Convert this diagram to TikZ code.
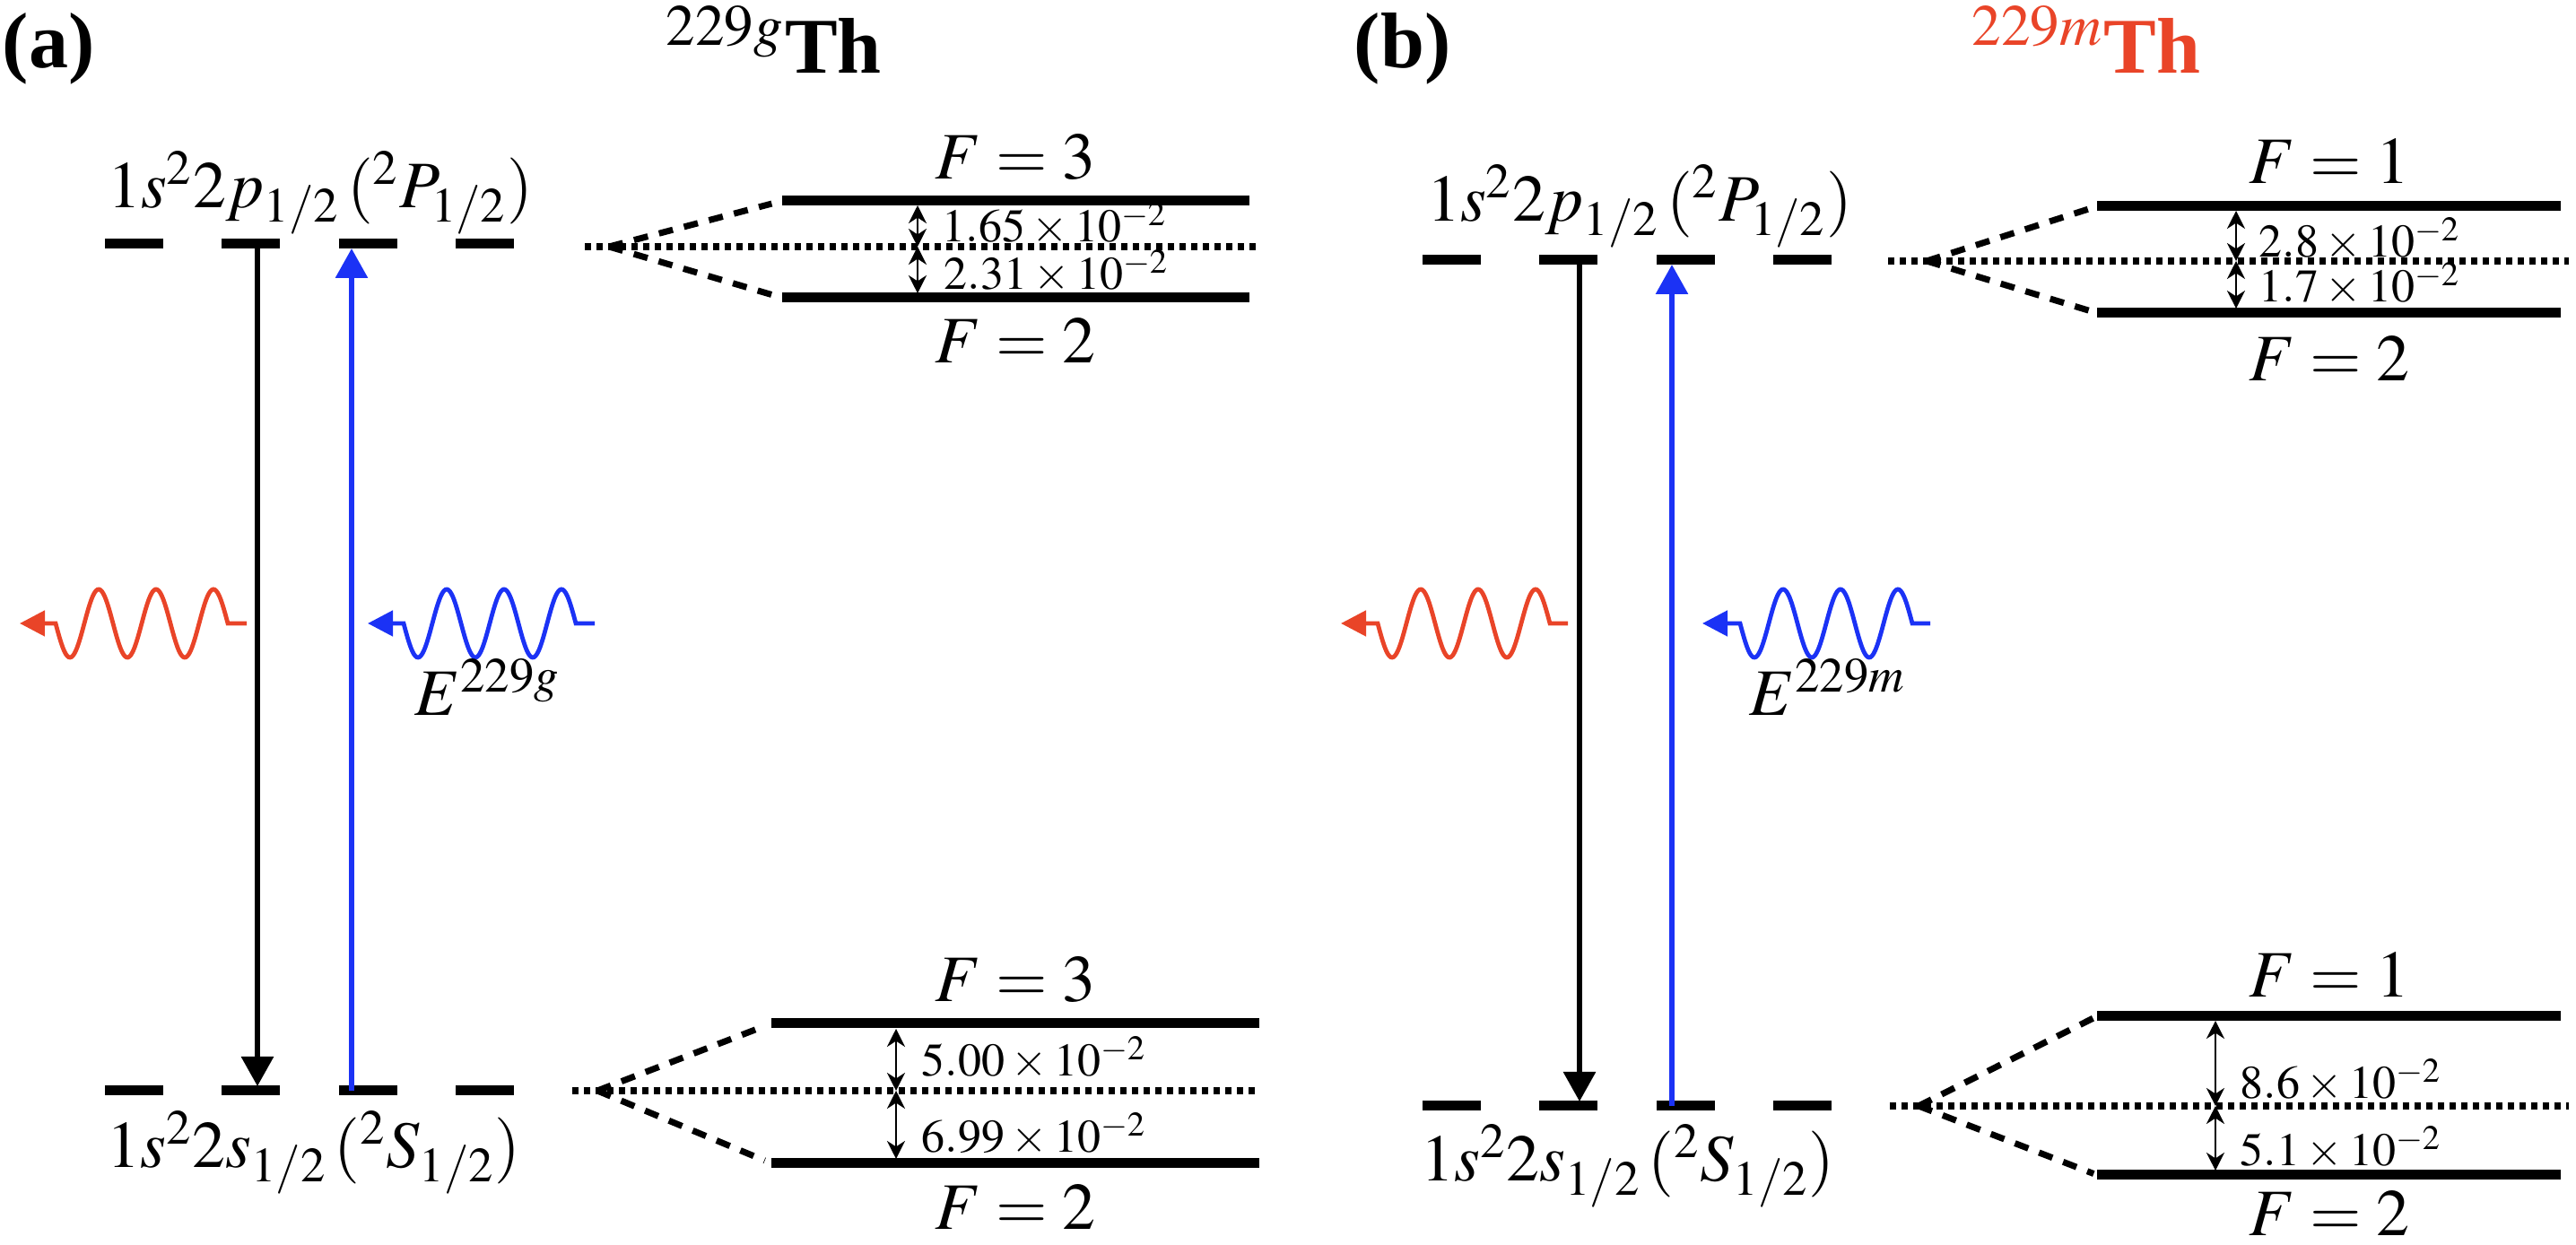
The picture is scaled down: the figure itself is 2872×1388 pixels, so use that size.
\documentclass[tikz,border=0pt]{standalone}
\usepackage{amsmath}
\usepackage{amssymb}
\usepackage{mathptmx}
\usepackage{fontspec}
\setmainfont{Liberation Serif}
\usetikzlibrary{arrows.meta}

\definecolor{photonred}{RGB}{233,68,40}
\definecolor{photonblue}{RGB}{27,50,245}

\tikzset{
  lvl/.style={line width=2.75pt, dash pattern=on 16.2pt off 16.4pt},
  hfs/.style={line width=2.75pt},
  ctr/.style={line width=1.9pt, dash pattern=on 1.7pt off 1.55pt},
  hfsplit/.style={line width=1.75pt, dash pattern=on 4pt off 3.2pt},
  hfgap/.style={line width=0.7pt, {Stealth[length=5pt,width=5pt,inset=1.6pt]}-{Stealth[length=5pt,width=5pt,inset=1.6pt]}},
  trans/.style={line width=1.5pt, -{Triangle[length=8.25pt,width=8.75pt]}},
  photon/.style={line width=1.2pt, -{Triangle[length=7pt,width=7pt]}},
  bigtxt/.style={font=\fontsize{18.5}{22}\selectfont},
  smalltxt/.style={font=\fontsize{13}{15}\selectfont},
  headtxt/.style={font=\fontsize{22}{26}\selectfont},
}

\begin{document}
\begin{tikzpicture}[x=0.25pt,y=0.25pt,yscale=-1,xscale=1]
\useasboundingbox (0,0) rectangle (2872,1388);

%%%%%%%%%%%%%%%% panel (a)
% Text Node
\draw (2,76) node [anchor=base west][inner sep=0pt][headtxt] (labA) {\textbf{(a)}};
% Text Node
\draw (742,82) node [anchor=base west][inner sep=0pt][headtxt] (isoA) {${}^{229g}$\textbf{Th}};

%Straight Lines
\draw [lvl] (117,272) -- (573,272) ;
%Straight Lines
\draw [lvl] (117,1216) -- (573,1216) ;
% Text Node
\draw (357,232) node [anchor=base][inner sep=0pt][bigtxt] (cfgAp) {$1s^{2}2p_{1/2}\,(^{2}P_{1/2})$};
% Text Node
\draw (350,1302) node [anchor=base][inner sep=0pt][bigtxt] (cfgAs) {$1s^{2}2s_{1/2}\,(^{2}S_{1/2})$};

\coordinate (aUk) at (287,277);
\coordinate (aLk) at (287,1211);
\coordinate (aUb) at (392,277);
\coordinate (aLb) at (392,1216);
%Arrows
\draw [trans] (aUk) -- (aLk) ;
\draw [trans, photonblue] (aLb) -- (aUb) ;

%Waves
\coordinate (aRs) at (275,695);
\coordinate (aRt) at (22,695);
\draw [photon, photonred] (aRs) -- (254,695) -- plot [domain=254:62, samples=120, smooth] (\x, {695+38*sin(5.625*(\x-62))}) -- (aRt) ;
\coordinate (aBs) at (663,695);
\coordinate (aBt) at (410,695);
\draw [photon, photonblue] (aBs) -- (642,695) -- plot [domain=642:450, samples=120, smooth] (\x, {695+38*sin(5.625*(\x-450))}) -- (aBt) ;
% Text Node
\draw (462,798) node [anchor=base west][inner sep=0pt][bigtxt] (enA) {$E^{229g}$};

% upper hyperfine
\coordinate (aUo) at (679,275);
\coordinate (aU3) at (872,224);
\coordinate (aU2) at (872,332);
\draw [ctr] (652,275) -- (1400,275) ;
\draw [hfsplit, shorten >=3pt] (aUo) -- (aU3) ;
\draw [hfsplit, shorten >=3pt] (aUo) -- (aU2) ;
\draw [hfs] (aU3) -- (1393,224) ;
\draw [hfs] (aU2) -- (1393,332) ;
\draw (1132,200) node [anchor=base][inner sep=0pt][bigtxt] (aUF3) {$F=3$};
\draw (1132,405) node [anchor=base][inner sep=0pt][bigtxt] (aUF2) {$F=2$};
\coordinate (aUgc) at (1023,275);
\coordinate (aUgt) at (1023,229);
\coordinate (aUgb) at (1023,327);
\draw [hfgap] (aUgt) -- (aUgc) ;
\draw [hfgap] (aUgc) -- (aUgb) ;
\draw (1050,270) node [anchor=base west][inner sep=0pt][smalltxt] (aUd1) {$1.65\times10^{-2}$};
\draw (1052,323) node [anchor=base west][inner sep=0pt][smalltxt] (aUd2) {$2.31\times10^{-2}$};

% lower hyperfine
\coordinate (aLo) at (666,1216);
\coordinate (aL3) at (860,1141);
\coordinate (aL2) at (860,1297);
\draw [ctr] (638,1216) -- (1404,1216) ;
\draw [hfsplit, shorten >=2pt] (aLo) -- (aL3) ;
\draw [hfsplit, shorten >=2pt] (aLo) -- (aL2) ;
\draw [hfs] (aL3) -- (1404,1141) ;
\draw [hfs] (aL2) -- (1404,1297) ;
\draw (1132,1117) node [anchor=base][inner sep=0pt][bigtxt] (aLF3) {$F=3$};
\draw (1132,1371) node [anchor=base][inner sep=0pt][bigtxt] (aLF2) {$F=2$};
\coordinate (aLgc) at (999,1216);
\coordinate (aLgt) at (999,1147);
\coordinate (aLgb) at (999,1292);
\draw [hfgap] (aLgt) -- (aLgc) ;
\draw [hfgap] (aLgc) -- (aLgb) ;
\draw (1027,1200) node [anchor=base west][inner sep=0pt][smalltxt] (aLd1) {$5.00\times10^{-2}$};
\draw (1027,1285) node [anchor=base west][inner sep=0pt][smalltxt] (aLd2) {$6.99\times10^{-2}$};

%%%%%%%%%%%%%%%% panel (b)
% Text Node
\draw (1509,76) node [anchor=base west][inner sep=0pt][headtxt] (labB) {\textbf{(b)}};
% Text Node
\draw (2198,82) node [anchor=base west][inner sep=0pt][headtxt, text=photonred] (isoB) {${}^{229m}$\textbf{Th}};

%Straight Lines
\draw [lvl] (1586,290) -- (2042,290) ;
%Straight Lines
\draw [lvl] (1586,1233) -- (2042,1233) ;
% Text Node
\draw (1828,247) node [anchor=base][inner sep=0pt][bigtxt] (cfgBp) {$1s^{2}2p_{1/2}\,(^{2}P_{1/2})$};
% Text Node
\draw (1815,1317) node [anchor=base][inner sep=0pt][bigtxt] (cfgBs) {$1s^{2}2s_{1/2}\,(^{2}S_{1/2})$};

\coordinate (bUk) at (1761,295);
\coordinate (bLk) at (1761,1228);
\coordinate (bUb) at (1864,295);
\coordinate (bLb) at (1864,1233);
%Arrows
\draw [trans] (bUk) -- (bLk) ;
\draw [trans, photonblue] (bLb) -- (bUb) ;

%Waves
\coordinate (bRs) at (1748,695);
\coordinate (bRt) at (1495,695);
\draw [photon, photonred] (bRs) -- (1728,695) -- plot [domain=1728:1536, samples=120, smooth] (\x, {695+38*sin(5.625*(\x-1536))}) -- (bRt) ;
\coordinate (bBs) at (2152,695);
\coordinate (bBt) at (1898,695);
\draw [photon, photonblue] (bBs) -- (2132,695) -- plot [domain=2132:1940, samples=120, smooth] (\x, {695+38*sin(5.625*(\x-1940))}) -- (bBt) ;
% Text Node
\draw (1950,798) node [anchor=base west][inner sep=0pt][bigtxt] (enB) {$E^{229m}$};

% upper hyperfine
\coordinate (bUo) at (2148,291);
\coordinate (bU1) at (2338,230);
\coordinate (bU2) at (2338,349);
\draw [ctr] (2105,291) -- (2864,291) ;
\draw [hfsplit, shorten >=1pt] (bUo) -- (bU1) ;
\draw [hfsplit, shorten >=1pt] (bUo) -- (bU2) ;
\draw [hfs] (bU1) -- (2855,230) ;
\draw [hfs] (bU2) -- (2855,349) ;
\draw (2597,205) node [anchor=base][inner sep=0pt][bigtxt] (bUF1) {$F=1$};
\draw (2597,425) node [anchor=base][inner sep=0pt][bigtxt] (bUF2) {$F=2$};
\coordinate (bUgc) at (2493,291);
\coordinate (bUgt) at (2493,235);
\coordinate (bUgb) at (2493,344);
\draw [hfgap] (bUgt) -- (bUgc) ;
\draw [hfgap] (bUgc) -- (bUgb) ;
\draw (2518,287) node [anchor=base west][inner sep=0pt][smalltxt] (bUd1) {$2.8\times10^{-2}$};
\draw (2518,337) node [anchor=base west][inner sep=0pt][smalltxt] (bUd2) {$1.7\times10^{-2}$};

% lower hyperfine
\coordinate (bLo) at (2139,1233);
\coordinate (bL1) at (2338,1133);
\coordinate (bL2) at (2338,1310);
\draw [ctr] (2107,1233) -- (2864,1233) ;
\draw [hfsplit, shorten >=1pt] (bLo) -- (bL1) ;
\draw [hfsplit, shorten >=1pt] (bLo) -- (bL2) ;
\draw [hfs] (bL1) -- (2855,1133) ;
\draw [hfs] (bL2) -- (2855,1310) ;
\draw (2597,1112) node [anchor=base][inner sep=0pt][bigtxt] (bLF1) {$F=1$};
\draw (2597,1378) node [anchor=base][inner sep=0pt][bigtxt] (bLF2) {$F=2$};
\coordinate (bLgc) at (2470,1233);
\coordinate (bLgt) at (2470,1138);
\coordinate (bLgb) at (2470,1305);
\draw [hfgap] (bLgt) -- (bLgc) ;
\draw [hfgap] (bLgc) -- (bLgb) ;
\draw (2497,1225) node [anchor=base west][inner sep=0pt][smalltxt] (bLd1) {$8.6\times10^{-2}$};
\draw (2497,1300) node [anchor=base west][inner sep=0pt][smalltxt] (bLd2) {$5.1\times10^{-2}$};

\end{tikzpicture}
\end{document}
